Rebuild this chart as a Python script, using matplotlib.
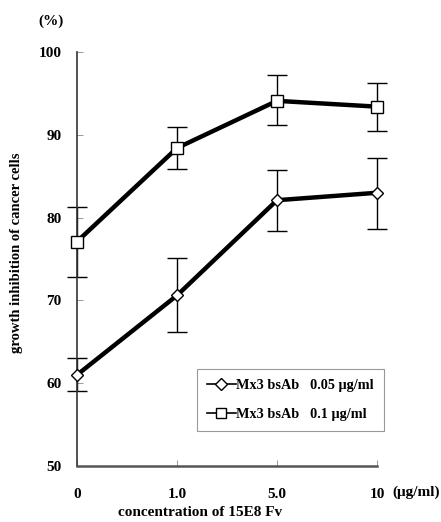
import numpy as np
import matplotlib
matplotlib.use('Agg')
import matplotlib.pyplot as plt
from matplotlib.lines import Line2D

plt.rcParams['font.family'] = ['Liberation Serif', 'DejaVu Serif']
plt.rcParams['font.weight'] = 'bold'

# concentration of 15E8 Fv (categorical)
conc_labels = ['0', '1.0', '5.0', '10']

# Mx3 bsAb 0.05 ug/ml
low_mean = [61.0, 70.6, 82.1, 83.0]
low_lo = [59.0, 66.2, 78.4, 78.6]
low_hi = [63.0, 75.1, 85.8, 87.2]

# Mx3 bsAb 0.1 ug/ml
high_mean = [77.1, 88.4, 94.1, 93.4]
high_lo = [72.8, 85.9, 91.2, 90.5]
high_hi = [81.3, 91.0, 97.2, 96.3]

y_ticks = [50, 60, 70, 80, 90, 100]

fig = plt.figure(figsize=(4.41, 5.22), dpi=100)
ax = fig.add_axes([77/441, 56/522, 300/441, 414/522])

x = np.arange(len(conc_labels))

def draw(mean, lo, hi, marker, ms):
    mean = np.array(mean); lo = np.array(lo); hi = np.array(hi)
    ax.errorbar(x, mean, yerr=[mean - lo, hi - mean], fmt='none', ecolor='black',
                elinewidth=1.0, capsize=7, capthick=1.0, clip_on=False, zorder=2)
    ax.plot(x, mean, color='black', lw=3.2, marker=marker, ms=ms, mfc='white',
            mec='black', mew=1.0, clip_on=False, zorder=3)

draw(low_mean, low_lo, low_hi, 'D', 6.5)
draw(high_mean, high_lo, high_hi, 's', 8)

ax.set_xlim(0, 3)
ax.set_ylim(50, 100)
ax.set_xticks(x)
ax.set_xticklabels(conc_labels)
ax.set_yticks(y_ticks)
ax.tick_params(direction='in', length=4, width=0.6, colors='#888888',
               labelcolor='black', labelsize=11)
ax.tick_params(axis='x', pad=16)
ax.tick_params(axis='y', pad=11)
for lab in ax.get_xticklabels() + ax.get_yticklabels():
    lab.set_fontweight('bold')

for s in ['top', 'right']:
    ax.spines[s].set_visible(False)
ax.spines['left'].set_color('#333333')
ax.spines['left'].set_linewidth(1.2)
ax.spines['bottom'].set_color('#555555')
ax.spines['bottom'].set_linewidth(1.8)

handles = [
    Line2D([], [], color='black', lw=1.2, marker='D', ms=6, mfc='white', mec='black'),
    Line2D([], [], color='black', lw=1.2, marker='s', ms=7, mfc='white', mec='black'),
]
labels = ['Mx3 bsAb   0.05 \u03bcg/ml', 'Mx3 bsAb   0.1 \u03bcg/ml']
leg = ax.legend(handles, labels, loc='upper left', bbox_to_anchor=(0.4, 0.2344),
                borderaxespad=0, fancybox=False, framealpha=1, edgecolor='#999999',
                handlelength=2.0, handletextpad=0.05, labelspacing=1.1, borderpad=0.7,
                prop={'size': 10.3, 'weight': 'bold'})
leg.get_frame().set_linewidth(0.8)

fig.text(51/441, 1 - 21/522, '(%)', ha='center', va='center', fontsize=11, fontweight='bold')
fig.text(416/441, 1 - 492/522, '(\u03bcg/ml)', ha='center', va='center', fontsize=11, fontweight='bold')
fig.text(200/441, 1 - 512/522, 'concentration of 15E8 Fv', ha='center', va='center',
         fontsize=11, fontweight='bold')
fig.text(17/441, 1 - 253/522, 'growth inhibition of cancer cells', ha='center', va='center',
         rotation=90, fontsize=10.5, fontweight='bold')

fig.savefig('out.png', dpi=100)
